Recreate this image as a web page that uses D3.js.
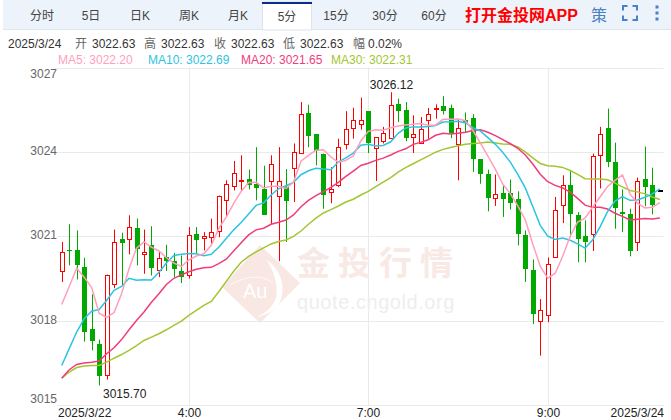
<!DOCTYPE html>
<html>
<head>
<meta charset="utf-8">
<script src="https://cdn.jsdelivr.net/npm/d3@7/dist/d3.min.js"></script>
<style>
html, body { margin: 0; padding: 0; background: #fff; }
svg { display: block; }
text { font-family: "Liberation Sans", "Noto Sans CJK SC", sans-serif; }
</style>
</head>
<body>
<div id="chart"></div>
<script>
var tabs = ["分时", "5日", "日K", "周K", "月K", "5分", "15分", "30分", "60分"];
var activeTab = "5分";
var appLabel = "打开金投网APP";
var quoteLabels = ["开", "高", "收", "低"];
var quoteValues = ["3022.63", "3022.63", "3022.63", "3022.63"];
var quoteDate = "2025/3/24";
var changeLabel = "幅";
var changeValue = "0.02%";
var maNames = ["MA5", "MA10", "MA20", "MA30"];
var maLatest = ["3022.20", "3022.69", "3021.65", "3022.31"];
var maColors = ["#ff9fbd", "#2cc4e2", "#f03c7a", "#a2c632"];

var yTicks = [3015, 3018, 3021, 3024, 3027];
// candle index -> label on the time axis
var timeTickIdx = [0, 17, 41, 65, 80];
var timeTicks = ["2025/3/22", "4:00", "7:00", "9:00", "2025/3/24"];

var opens = [3019.78,3020.53,3020.50,3019.90,3017.69,3017.16,3016.08,3019.32,3020.89,3020.92,
3021.28,3020.37,3020.68,3019.82,3020.25,3020.11,3019.76,3019.64,3021.07,3020.92,
3020.99,3021.19,3022.29,3022.79,3022.99,3023.03,3022.87,3022.67,3022.98,3022.45,
3022.75,3023.44,3023.96,3025.40,3024.63,3023.94,3022.55,3022.81,3024.30,3024.85,
3025.01,3025.44,3024.15,3024.39,3024.49,3025.69,3025.48,3024.53,3024.35,3025.10,
3025.54,3025.62,3025.55,3024.30,3025.15,3025.22,3023.74,3023.20,3022.38,3022.53,
3022.55,3022.31,3021.06,3019.79,3018.00,3018.22,3020.28,3022.13,3022.81,3021.75,
3021.00,3021.10,3023.87,3024.84,3023.63,3021.85,3021.81,3020.81,3023.03,3022.81,3022.63];
var highs = [3020.80,3021.43,3021.21,3020.24,3018.94,3017.33,3019.64,3021.24,3021.13,3021.75,
3021.63,3021.24,3021.36,3020.44,3020.70,3020.41,3020.32,3021.33,3021.33,3021.15,
3021.63,3022.45,3022.99,3023.68,3023.88,3023.37,3024.17,3023.51,3023.88,3024.17,
3023.39,3024.30,3025.77,3025.68,3024.63,3023.94,3023.46,3024.47,3025.45,3025.57,
3025.93,3025.44,3024.53,3024.89,3026.12,3025.89,3025.77,3025.30,3025.24,3025.56,
3025.69,3025.98,3025.68,3025.18,3025.40,3025.34,3023.74,3023.37,3023.20,3022.81,
3023.02,3022.60,3021.21,3020.18,3018.77,3020.25,3022.40,3023.17,3023.32,3021.86,
3021.57,3023.94,3024.89,3025.54,3024.33,3022.67,3021.98,3023.09,3024.19,3023.44,3022.63];
var lows = [3019.38,3019.97,3019.47,3017.26,3016.95,3015.70,3015.91,3019.16,3019.26,3020.36,
3019.97,3019.67,3019.61,3019.55,3019.77,3019.55,3019.34,3019.50,3020.38,3020.50,
3020.74,3020.97,3021.69,3022.63,3022.60,3022.67,3022.28,3021.76,3021.43,3020.12,
3020.80,3022.22,3023.94,3024.17,3023.52,3021.98,3022.18,3022.75,3024.09,3024.47,
3024.79,3023.96,3022.97,3024.30,3024.49,3025.06,3024.38,3023.96,3024.30,3024.47,
3025.18,3025.33,3024.49,3022.99,3024.69,3023.29,3022.87,3021.89,3022.08,3021.69,
3021.95,3020.68,3019.38,3017.88,3016.76,3017.95,3020.28,3021.47,3020.97,3020.08,
3020.08,3020.48,3022.70,3023.46,3021.27,3021.15,3020.29,3020.48,3022.07,3021.78,3022.63];
var closes = [3020.44,3020.48,3019.97,3017.60,3017.28,3016.03,3019.64,3020.81,3020.75,3021.34,
3020.55,3020.43,3019.86,3020.24,3020.11,3019.84,3019.54,3021.06,3020.86,3021.00,
3021.17,3022.45,3022.87,3023.26,3023.01,3022.81,3022.72,3021.76,3023.58,3022.98,
3022.25,3024.01,3025.33,3024.57,3024.03,3022.47,3022.67,3024.17,3024.83,3025.15,
3025.15,3024.30,3024.53,3024.69,3025.65,3025.44,3024.49,3024.62,3024.83,3025.33,
3025.56,3025.44,3024.66,3024.86,3025.03,3023.78,3023.20,3022.36,3022.52,3022.33,
3022.18,3021.05,3019.84,3018.24,3018.39,3020.03,3021.95,3022.84,3021.79,3020.90,
3020.79,3023.87,3024.62,3023.64,3022.01,3021.77,3020.51,3022.98,3022.75,3022.11,3022.63];

var ma5 = [3018.58,3019.22,3019.87,3019.55,3019.18,3018.27,3018.12,3018.29,3018.96,3019.85,
3020.58,3020.80,3020.62,3020.48,3020.24,3020.05,3019.93,3020.16,3020.30,3020.38,
3020.68,3021.28,3021.68,3022.17,3022.60,3022.91,3022.92,3022.72,3022.78,3022.78,
3022.70,3022.93,3023.67,3023.88,3024.06,3024.08,3023.82,3023.63,3023.70,3023.86,
3024.39,3024.73,3024.79,3024.77,3024.86,3024.92,3024.96,3024.98,3025.01,3024.95,
3024.96,3025.16,3025.16,3025.17,3025.11,3024.76,3024.31,3023.85,3023.38,3022.85,
3022.52,3022.08,3021.59,3020.73,3019.94,3019.51,3019.69,3020.29,3021.00,3021.51,
3021.65,3022.04,3022.40,3022.77,3022.99,3023.18,3022.51,3022.18,3022.01,3022.03,3022.20];
var ma10 = [3016.41,3017.01,3017.60,3018.07,3018.34,3018.40,3018.72,3019.08,3019.22,3019.51,
3019.44,3019.46,3019.45,3019.72,3020.05,3020.32,3020.36,3020.39,3020.38,3020.31,
3020.36,3020.61,3020.92,3021.23,3021.49,3021.79,3022.10,3022.19,3022.47,3022.69,
3022.80,3022.92,3023.19,3023.33,3023.42,3023.39,3023.37,3023.65,3023.79,3023.96,
3024.24,3024.27,3024.21,3024.23,3024.36,3024.66,3024.85,3024.89,3024.89,3024.90,
3024.94,3025.06,3025.07,3025.09,3025.03,3024.86,3024.74,3024.51,3024.27,3023.98,
3023.64,3023.20,3022.72,3022.06,3021.39,3021.01,3020.89,3020.94,3020.86,3020.73,
3020.58,3020.87,3021.34,3021.88,3022.25,3022.41,3022.28,3022.29,3022.39,3022.51,3022.69];
var ma20 = [3015.96,3016.26,3016.45,3016.50,3016.53,3016.57,3016.83,3017.04,3017.33,3017.68,
3018.01,3018.31,3018.66,3018.96,3019.29,3019.51,3019.63,3019.74,3019.83,3019.88,
3019.90,3020.03,3020.19,3020.48,3020.77,3021.05,3021.23,3021.29,3021.43,3021.50,
3021.58,3021.76,3022.05,3022.28,3022.45,3022.59,3022.74,3022.92,3023.13,3023.32,
3023.52,3023.60,3023.70,3023.78,3023.89,3024.02,3024.11,3024.27,3024.34,3024.43,
3024.59,3024.66,3024.64,3024.66,3024.70,3024.76,3024.79,3024.70,3024.58,3024.44,
3024.29,3024.13,3023.89,3023.57,3023.21,3022.94,3022.81,3022.72,3022.57,3022.35,
3022.11,3022.03,3022.03,3021.97,3021.82,3021.71,3021.58,3021.61,3021.63,3021.62,3021.65];
var ma30 = [3015.96,3016.18,3016.34,3016.39,3016.41,3016.41,3016.53,3016.67,3016.80,3016.95,
3017.12,3017.30,3017.42,3017.54,3017.68,3017.84,3017.99,3018.19,3018.37,3018.55,
3018.69,3019.03,3019.40,3019.76,3020.08,3020.29,3020.45,3020.59,3020.73,3020.82,
3020.87,3021.00,3021.19,3021.43,3021.65,3021.83,3021.95,3022.08,3022.22,3022.32,
3022.47,3022.60,3022.77,3022.93,3023.09,3023.28,3023.44,3023.58,3023.72,3023.85,
3023.99,3024.09,3024.16,3024.22,3024.27,3024.30,3024.32,3024.35,3024.32,3024.28,
3024.27,3024.18,3024.00,3023.79,3023.59,3023.51,3023.49,3023.45,3023.34,3023.20,
3023.05,3023.04,3023.04,3023.01,3022.89,3022.76,3022.63,3022.58,3022.51,3022.40,3022.31];
var maSeries = [ma30, ma20, ma10, ma5];
var maSeriesColors = [maColors[3], maColors[2], maColors[1], maColors[0]];

var highIdx = 44, lowIdx = 5;

var width = 671, height = 420;
var margin = { top: 67.5, right: 7.4, bottom: 14.5, left: 58 };

var svg = d3.select("#chart").append("svg")
    .attr("width", width)
    .attr("height", height);

// ---------- toolbar ----------
var bar = svg.append("g");
bar.append("rect").attr("x", 3).attr("y", 0).attr("width", 668).attr("height", 29).attr("fill", "#edf3fb");
bar.append("line").attr("x1", 3).attr("x2", 671).attr("y1", 29.5).attr("y2", 29.5).attr("stroke", "#dce4f0");

var tabX = d3.scaleBand().domain(tabs).range([17.5, 458.5]);

var activeX = tabX(activeTab);
bar.append("rect").attr("x", activeX).attr("y", 2).attr("width", tabX.bandwidth()).attr("height", 28)
    .attr("fill", "#fff").attr("stroke", "#dce4f0");
bar.append("rect").attr("x", activeX - 0.5).attr("y", 2).attr("width", tabX.bandwidth() + 1).attr("height", 2)
    .attr("fill", "#0b2c8c");

bar.selectAll(".tab")
    .data(tabs)
    .enter()
    .append("text")
    .attr("class", "tab")
    .attr("x", d => tabX(d) + tabX.bandwidth() / 2)
    .attr("y", d => d === activeTab ? 21 : 19.5)
    .attr("text-anchor", "middle")
    .attr("font-size", 12)
    .attr("fill", "#444")
    .text(d => d);

bar.append("text").attr("x", 465).attr("y", 20.5)
    .attr("font-size", 16).attr("font-weight", "bold").attr("fill", "#ff0000")
    .text(appLabel);
bar.append("text").attr("x", 591).attr("y", 20.5)
    .attr("font-size", 16).attr("fill", "#4a7fc4")
    .text("策");

// fullscreen corners
var fsPaths = ["M623 10.5 V6 H627.5", "M632.5 6 H637 V10.5", "M623 15.5 V20 H627.5", "M632.5 20 H637 V15.5"];
bar.selectAll(".fs").data(fsPaths).enter().append("path").attr("class", "fs")
    .attr("d", d => d).attr("fill", "none").attr("stroke", "#4a7fd0").attr("stroke-width", 2);
// menu dots
bar.selectAll(".dot").data([7, 13, 19]).enter().append("rect").attr("class", "dot")
    .attr("x", 655.5).attr("y", d => d - 1.5).attr("width", 3).attr("height", 3).attr("fill", "#4a7fd0");

// ---------- quote line ----------
var info = svg.append("g").attr("font-size", 12);
info.append("text").attr("x", 8).attr("y", 48).attr("fill", "#333").text(quoteDate);
var labelX = [75, 144, 214, 283];
info.selectAll(".qlabel").data(quoteLabels).enter().append("text").attr("class", "qlabel")
    .attr("x", (d, i) => labelX[i]).attr("y", 48).attr("fill", "#666").text(d => d);
info.selectAll(".qvalue").data(quoteValues).enter().append("text").attr("class", "qvalue")
    .attr("x", (d, i) => labelX[i] + 17).attr("y", 48).attr("fill", "#333").text(d => d);
info.append("text").attr("x", 353).attr("y", 48).attr("fill", "#666").text(changeLabel);
info.append("text").attr("x", 368).attr("y", 48).attr("fill", "#333").text(changeValue);

var maLegendX = [58, 148, 241, 331];
info.selectAll(".malegend").data(maNames).enter().append("text").attr("class", "malegend")
    .attr("x", (d, i) => maLegendX[i]).attr("y", 64)
    .attr("fill", (d, i) => maColors[i])
    .text((d, i) => d + ": " + maLatest[i]);

// ---------- scales ----------
var x = d3.scaleBand()
    .domain(d3.range(closes.length))
    .range([margin.left, width - margin.right]);
var cx = i => Math.round(x(i) + x.bandwidth() / 2);

var y = d3.scaleLinear()
    .domain([3015, 3027])
    .range([height - margin.bottom - 0.3, margin.top]);

// ---------- grid ----------
var grid = svg.append("g");
grid.selectAll(".hgrid").data(yTicks).enter().append("line").attr("class", "hgrid")
    .attr("x1", margin.left - 1).attr("x2", width - margin.right)
    .attr("y1", d => Math.round(y(d)) + 0.5).attr("y2", d => Math.round(y(d)) + 0.5)
    .attr("stroke", "#eaeaea");
grid.selectAll(".vgrid").data(timeTickIdx.slice(1, 4)).enter().append("line").attr("class", "vgrid")
    .attr("x1", d => cx(d) + 0.5).attr("x2", d => cx(d) + 0.5)
    .attr("y1", y(3027)).attr("y2", y(3015))
    .attr("stroke", "#eaeaea");

// ---------- watermark ----------
var mark = svg.append("g");
mark.append("path")
    .attr("d", "M260 245 L300 283 L260 323 L222 287 Z")
    .attr("fill", "#f8e7e3");
mark.append("path")
    .attr("d", "M266.7 260 C280 268.3 286.7 286.7 280 301.7 C275 311.7 265 315 256.7 317.3 C268.3 311.7 276.7 303.3 276.7 291.7 C276.7 278.3 271.7 268.3 266.7 260 Z")
    .attr("fill", "#fff");
mark.append("path")
    .attr("d", "M230 285 C245 276 262 274 273 283")
    .attr("fill", "none").attr("stroke", "#fff").attr("stroke-width", 0.8);
mark.append("text").attr("x", 243).attr("y", 298).attr("font-size", 20).attr("fill", "#fff").text("Au");
mark.append("text").attr("x", 297).attr("y", 275).attr("font-size", 33).attr("font-weight", "bold")
    .attr("letter-spacing", 8).attr("fill", "#f9e9e5").text("金投行情");
mark.append("text").attr("x", 297).attr("y", 309).attr("font-size", 20).attr("letter-spacing", 0.55)
    .attr("fill", "#eeeeee").text("quote.cngold.org");

// ---------- candles ----------
var candles = svg.append("g");
var candleColor = function (i) {
    if (highs[i] === lows[i]) return "#000";
    return closes[i] >= opens[i] ? "#ff0000" : "#00a800";
};

candles.selectAll(".wick")
    .data(d3.range(closes.length))
    .enter()
    .append("line")
    .attr("class", "wick")
    .attr("x1", i => cx(i) + 0.5).attr("x2", i => cx(i) + 0.5)
    .attr("y1", i => y(highs[i])).attr("y2", i => y(lows[i]))
    .attr("stroke", candleColor);

candles.selectAll(".body")
    .data(d3.range(closes.length))
    .enter()
    .append("rect")
    .attr("class", "body")
    .attr("x", i => cx(i) - (closes[i] >= opens[i] ? 1.5 : 2))
    .attr("width", i => closes[i] >= opens[i] ? 4 : 5)
    .attr("y", i => Math.round(y(Math.max(opens[i], closes[i]))) + (closes[i] >= opens[i] ? 0.5 : 0))
    .attr("height", i => Math.max(1, Math.round(y(Math.min(opens[i], closes[i])) - y(Math.max(opens[i], closes[i])))))
    .attr("fill", i => closes[i] >= opens[i] ? "#fff" : "#00a800")
    .attr("stroke", i => closes[i] >= opens[i] ? candleColor(i) : "none");

// ---------- moving averages ----------
var maLine = d3.line()
    .x((d, i) => x(i) + x.bandwidth() / 2)
    .y(d => y(d));

svg.append("g").selectAll(".ma")
    .data(maSeries)
    .enter()
    .append("path")
    .attr("class", "ma")
    .attr("d", maLine)
    .attr("fill", "none")
    .attr("stroke", (d, i) => maSeriesColors[i])
    .attr("stroke-width", 1.5);

// ---------- axis labels ----------
var axisText = svg.append("g").attr("font-size", 12);
axisText.selectAll(".ylabel").data(yTicks).enter().append("text").attr("class", "ylabel")
    .attr("x", 57).attr("text-anchor", "end").attr("fill", "#666")
    .attr("y", d => d === 3027 ? y(d) + 10 : d === 3015 ? y(d) - 2 : y(d) + 3)
    .text(d => d);
axisText.selectAll(".xlabel").data(timeTicks).enter().append("text").attr("class", "xlabel")
    .attr("y", 417).attr("fill", "#222")
    .attr("x", (d, i) => i === 0 ? 58 : i === timeTicks.length - 1 ? 664 : cx(timeTickIdx[i]) + 0.5)
    .attr("text-anchor", (d, i) => i === 0 ? "start" : i === timeTicks.length - 1 ? "end" : "middle")
    .text(d => d);

axisText.append("text").attr("x", cx(highIdx) + 0.5).attr("y", y(highs[highIdx]) - 3)
    .attr("text-anchor", "middle").attr("fill", "#222").text(highs[highIdx].toFixed(2));
axisText.append("text").attr("x", cx(lowIdx) + 4).attr("y", y(lows[lowIdx]) + 12)
    .attr("fill", "#222").text(lows[lowIdx].toFixed(2));
</script>
</body>
</html>
